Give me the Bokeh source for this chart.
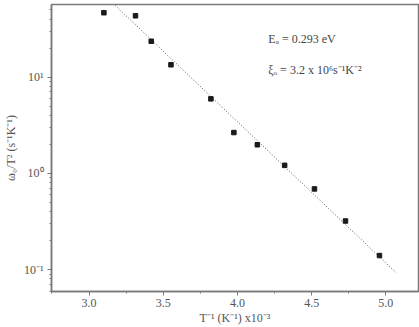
from bokeh.plotting import figure
from bokeh.models import Range1d, SingleIntervalTicker, LogTicker, Label, NumeralTickFormatter
from bokeh.embed import file_html
from bokeh.resources import INLINE

# data
inv_T = [3.10, 3.313, 3.419, 3.552, 3.821, 3.976, 4.134, 4.318, 4.519, 4.728, 4.957]
omega_T2 = [46.5, 43.2, 23.5, 13.4, 5.93, 2.65, 1.98, 1.21, 0.689, 0.32, 0.140]
fit_x = [3.177, 5.069]
fit_y = [55.2, 0.093]
y_tick_labels = {0.1: "10⁻¹", 1: "10⁰", 10: "10¹"}
ann_lines = ["Eₐ = 0.293 eV", "ξₒ = 3.2 x 10⁶s⁻¹K⁻²"]
ann_x = [4.208, 4.208]
ann_y = [24.7, 11.8]

FONT = "Liberation Serif"
AX = "#7a7a7a"

p = figure(width=419, height=327, y_axis_type="log",
           x_range=Range1d(2.747, 5.22), y_range=Range1d(0.0593, 56.6),
           output_backend="svg", toolbar_location=None,
           min_border_left=49, min_border_right=1, min_border_top=4, min_border_bottom=34)

p.background_fill_color = "white"
p.border_fill_color = "white"
p.outline_line_color = AX
p.outline_line_width = 1.5
p.grid.visible = False

p.xaxis.ticker = SingleIntervalTicker(interval=0.5, num_minor_ticks=2)
p.xaxis.formatter = NumeralTickFormatter(format="0.0")
p.yaxis.ticker = LogTicker(num_minor_ticks=10)
p.yaxis.major_label_overrides = y_tick_labels

for ax in (p.xaxis[0], p.yaxis[0]):
    ax.axis_line_color = AX
    ax.axis_line_width = 1.5
    ax.major_tick_line_color = AX
    ax.minor_tick_line_color = AX
    ax.major_tick_in = 0
    ax.major_tick_out = 4
    ax.minor_tick_in = 0
    ax.minor_tick_out = 2
    ax.major_label_text_font = FONT
    ax.major_label_text_font_size = "12px"
    ax.major_label_text_color = "#555555"
    ax.axis_label_text_font = FONT
    ax.axis_label_text_font_size = "12px"
    ax.axis_label_text_font_style = "normal"
    ax.axis_label_text_color = "#555555"

p.xaxis.axis_label = "T⁻¹ (K⁻¹) x10⁻³"
p.yaxis.axis_label = "ω₀/T² (s⁻¹K⁻¹)"
p.xaxis.major_label_standoff = 3
p.xaxis.axis_label_standoff = 1
p.yaxis.major_label_standoff = 4
p.yaxis.axis_label_standoff = 3

p.line(fit_x, fit_y, line_color="#555555", line_width=1, line_dash="1 2")
p.scatter(inv_T, omega_T2, marker="square", size=4.5, fill_color="#1a1a1a", line_color="#1a1a1a")

for t, xx, yy in zip(ann_lines, ann_x, ann_y):
    p.add_layout(Label(x=xx, y=yy, text=t, text_font=FONT, text_font_size="12px",
                       text_color="#444444", text_baseline="middle"))

open("out.html", "w").write(file_html(p, INLINE))
